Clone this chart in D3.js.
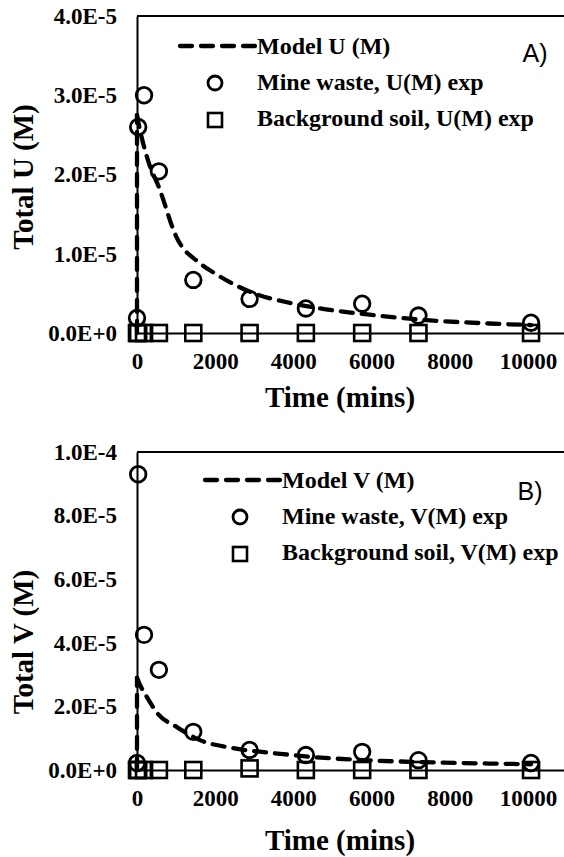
<!DOCTYPE html>
<html>
<head>
<meta charset="utf-8">
<script src="https://cdn.jsdelivr.net/npm/d3@7"></script>
<style>
  body { margin: 0; background: #fff; }
  svg { display: block; }
</style>
</head>
<body>
<div id="container"></div>
<script>
// sampling times (mins)
const expTimes = [0, 30, 180, 560, 1440, 2880, 4320, 5760, 7200, 10080];

// panel A, uranium (values in M)
const mineU = [0.19e-5, 2.6e-5, 3.0e-5, 2.04e-5, 0.67e-5, 0.43e-5, 0.31e-5, 0.37e-5, 0.22e-5, 0.13e-5];
const soilU = [0, 0, 0, 0, 0, 0, 0, 0, 0, 0];
const modelUTimes = [0, 0, 60, 180, 300, 560, 1000, 1610, 2000, 2890, 3910, 4680, 5780, 7490, 9000, 10080];
const modelU = [0, 2.75e-5, 2.6e-5, 2.35e-5, 2.15e-5, 1.84e-5, 1.22e-5, 0.88e-5, 0.75e-5, 0.52e-5, 0.38e-5, 0.31e-5, 0.24e-5, 0.16e-5, 0.12e-5, 0.1e-5];

// panel B, vanadium (values in M)
const mineV = [0.22e-5, 9.3e-5, 4.25e-5, 3.15e-5, 1.2e-5, 0.63e-5, 0.47e-5, 0.57e-5, 0.31e-5, 0.22e-5];
const soilV = [0, 0, 0, 0, 0, 0.05e-5, 0, 0, 0, 0];
const modelVTimes = [0, 0, 80, 250, 510, 1020, 1610, 2460, 3740, 4500, 5780, 7240, 9620, 10080];
const modelV = [0, 2.9e-5, 2.67e-5, 2.3e-5, 1.8e-5, 1.35e-5, 0.94e-5, 0.69e-5, 0.5e-5, 0.41e-5, 0.31e-5, 0.25e-5, 0.19e-5, 0.18e-5];

const xTicks = [0, 2000, 4000, 6000, 8000, 10000];
const yTicksA = [0, 1e-5, 2e-5, 3e-5, 4e-5];
const yLabelsA = ["0.0E+0", "1.0E-5", "2.0E-5", "3.0E-5", "4.0E-5"];
const yTicksB = [0, 2e-5, 4e-5, 6e-5, 8e-5, 1e-4];
const yLabelsB = ["0.0E+0", "2.0E-5", "4.0E-5", "6.0E-5", "8.0E-5", "1.0E-4"];

const serif = "'Liberation Serif', 'Times New Roman', serif";

const svg = d3
  .select("#container")
  .append("svg")
  .attr("width", 564)
  .attr("height", 857);

const x = d3.scaleLinear().domain([0, 11000]).range([137, 567]);

const drawPanel = (p) => {
  const y = d3.scaleLinear().domain(p.yDomain).range([p.bottom, p.top]);
  const g = svg.append("g");

  // top border of plot area
  g.append("line")
    .attr("x1", 137).attr("x2", 564)
    .attr("y1", p.top).attr("y2", p.top)
    .attr("stroke", "#000").attr("stroke-width", 2);

  const yAxis = g.append("g")
    .attr("transform", `translate(137,0)`)
    .call(d3.axisLeft(y).tickValues(p.yTicks)
      .tickFormat((d, i) => p.yLabels[i]).tickSize(0).tickPadding(20));
  const xAxis = g.append("g")
    .attr("transform", `translate(0,${p.bottom})`)
    .call(d3.axisBottom(x).tickValues(xTicks)
      .tickFormat(d3.format("d")).tickSize(0).tickPadding(20));

  [yAxis, xAxis].forEach((a) => {
    a.select(".domain").attr("stroke", "#000").attr("stroke-width", 2);
    a.selectAll("text")
      .attr("font-family", serif)
      .attr("font-weight", "bold")
      .attr("font-size", 23)
      .attr("fill", "#000");
  });

  // model curve
  const pts = p.modelTimes.map((t, i) => [x(t), y(p.model[i])]);
  const dash = (sel) => sel
    .attr("fill", "none").attr("stroke", "#000").attr("stroke-width", 4.3)
    .attr("stroke-dasharray", "12,9").attr("stroke-linecap", "round");
  g.append("path").attr("d", d3.line()(pts.slice(0, 2))).call(dash);
  g.append("path")
    .attr("d", d3.line().curve(d3.curveMonotoneX)(pts.slice(1)))
    .call(dash);

  // background soil squares
  g.selectAll(".sq")
    .data(p.soil)
    .enter()
    .append("rect")
    .attr("x", (d, i) => x(expTimes[i]) - 8)
    .attr("y", (d) => y(d) - 8)
    .attr("width", 16).attr("height", 16)
    .attr("fill", "none").attr("stroke", "#000").attr("stroke-width", 2.6);

  // mine waste circles
  g.selectAll(".ci")
    .data(p.mine)
    .enter()
    .append("circle")
    .attr("cx", (d, i) => x(expTimes[i]))
    .attr("cy", (d) => y(d))
    .attr("r", 7.8)
    .attr("fill", "none").attr("stroke", "#000").attr("stroke-width", 2.8);

  // axis titles
  g.append("text")
    .attr("x", 340).attr("y", p.xTitleY)
    .attr("text-anchor", "middle")
    .attr("font-family", serif).attr("font-weight", "bold").attr("font-size", 29)
    .text("Time (mins)");
  g.append("text")
    .attr("transform", `translate(23,${p.yTitleY}) rotate(-90)`)
    .attr("text-anchor", "middle").attr("dy", "0.35em")
    .attr("font-family", serif).attr("font-weight", "bold").attr("font-size", 29)
    .text(p.yTitle);

  // legend
  const L = p.legend;
  g.append("line")
    .attr("x1", L.x0).attr("x2", L.x0 + 75)
    .attr("y1", L.y).attr("y2", L.y)
    .call(dash);
  g.append("circle")
    .attr("cx", L.x0 + 35).attr("cy", L.y + 37).attr("r", 7)
    .attr("fill", "none").attr("stroke", "#000").attr("stroke-width", 2.8);
  g.append("rect")
    .attr("x", L.x0 + 28).attr("y", L.y + 67).attr("width", 14).attr("height", 14)
    .attr("fill", "none").attr("stroke", "#000").attr("stroke-width", 2.6);
  g.selectAll(".lg")
    .data(p.legendText)
    .enter()
    .append("text")
    .attr("x", L.x0 + 77)
    .attr("y", (d, i) => L.y + 8 + i * 36)
    .attr("font-family", serif).attr("font-weight", "bold").attr("font-size", 24)
    .text((d) => d);

  g.append("text")
    .attr("x", p.tag[0]).attr("y", p.tag[1])
    .attr("text-anchor", "middle")
    .attr("font-family", "'Liberation Sans', Arial, sans-serif").attr("font-size", 25)
    .text(p.tagText);
};

drawPanel({
  top: 16, bottom: 333, yDomain: [0, 4e-5],
  yTicks: yTicksA, yLabels: yLabelsA,
  modelTimes: modelUTimes, model: modelU, mine: mineU, soil: soilU,
  xTitleY: 407, yTitleY: 177, yTitle: "Total U (M)",
  legend: { x0: 180, y: 46 },
  legendText: ["Model U (M)", "Mine waste, U(M) exp", "Background soil, U(M) exp"],
  tag: [535, 62], tagText: "A)",
});

drawPanel({
  top: 452, bottom: 770, yDomain: [0, 1e-4],
  yTicks: yTicksB, yLabels: yLabelsB,
  modelTimes: modelVTimes, model: modelV, mine: mineV, soil: soilV,
  xTitleY: 850, yTitleY: 642, yTitle: "Total V (M)",
  legend: { x0: 205, y: 480 },
  legendText: ["Model V (M)", "Mine waste, V(M) exp", "Background soil, V(M) exp"],
  tag: [530, 500], tagText: "B)",
});
</script>
</body>
</html>
